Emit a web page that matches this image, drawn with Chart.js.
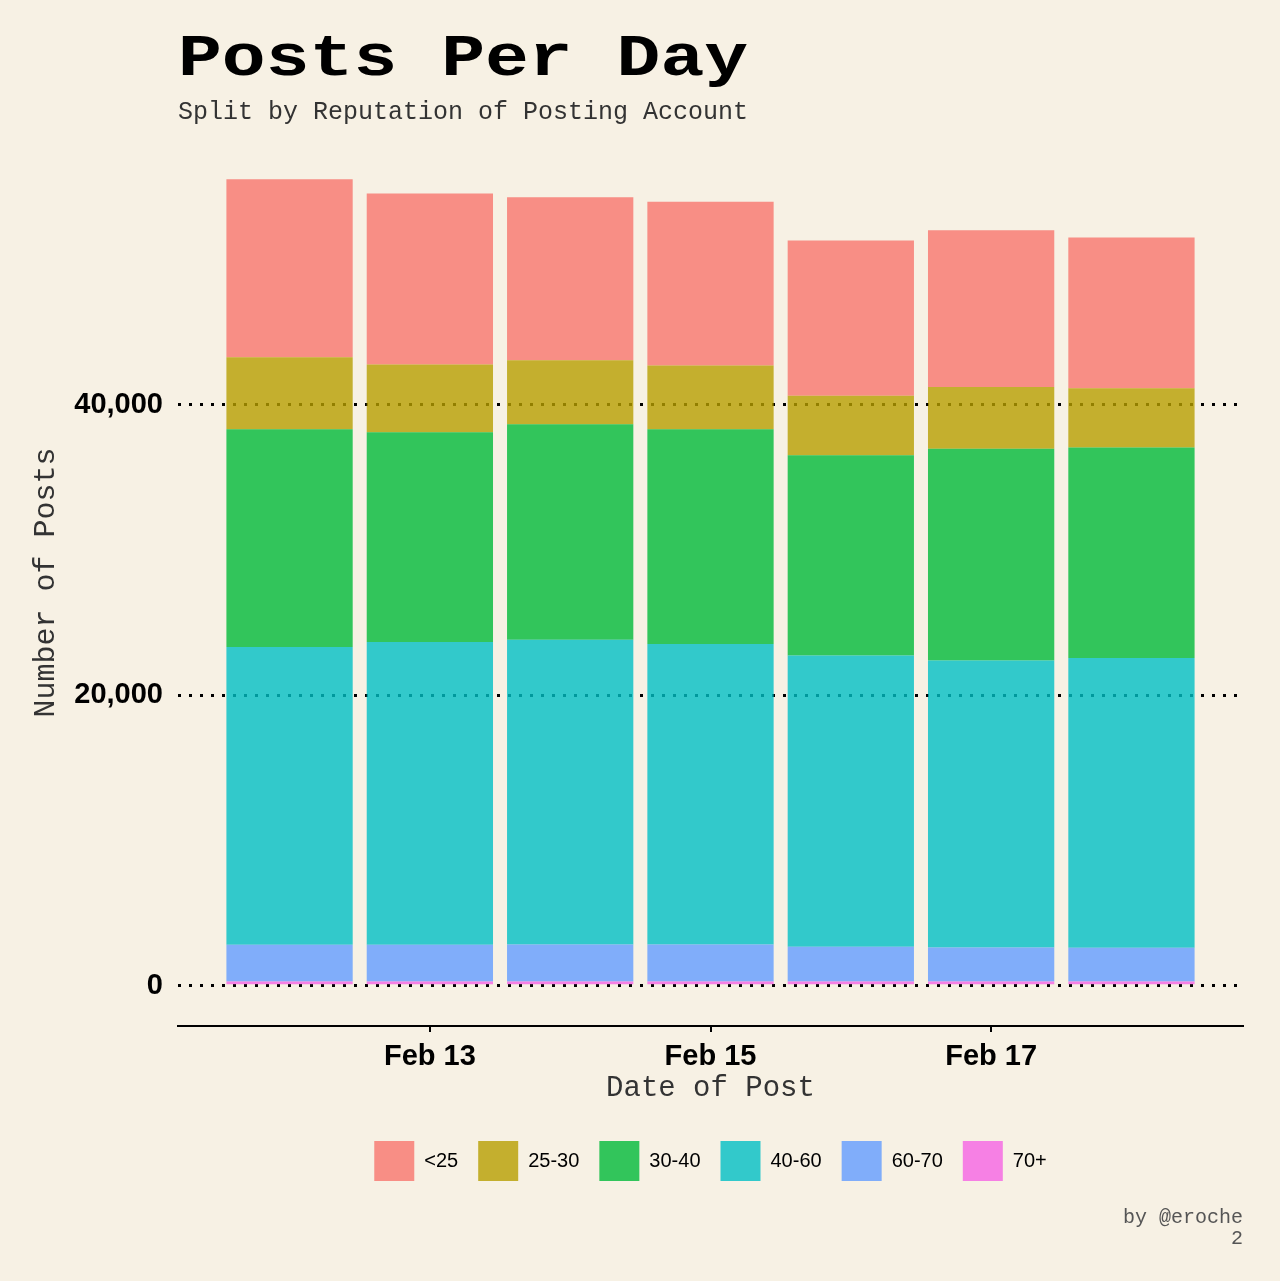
<!DOCTYPE html>
<html>
<head>
<meta charset="utf-8">
<script src="https://cdn.jsdelivr.net/npm/chart.js@4/dist/chart.umd.min.js"></script>
<style>
  html, body { margin:0; padding:0; background:#F7F1E4; }
  #wrap { position:relative; width:1280px; height:1281px; background:#F7F1E4; }
  #c { position:absolute; left:0; top:0; }
  .t { position:absolute; font-family:'Liberation Mono', monospace; white-space:nowrap; line-height:1; }
  #title { left:178px; top:29px; font-size:60px; font-weight:bold; color:#000; transform:scaleX(1.218); transform-origin:0 0; }
  #subtitle { left:178px; top:100px; font-size:25px; color:#333; }
  #foot { right:37px; top:1207px; font-size:20px; color:#555; text-align:right; line-height:21px; }
</style>
</head>
<body>
<div id="wrap">
  <canvas id="c" width="1280" height="1281"></canvas>
  <div class="t" id="title">Posts Per Day</div>
  <div class="t" id="subtitle">Split by Reputation of Posting Account</div>
  <div class="t" id="foot">by @eroche<br>2</div>
</div>
<script>
// Categories (days)
const categories = ['Feb 12', 'Feb 13', 'Feb 14', 'Feb 15', 'Feb 16', 'Feb 17', 'Feb 18'];
// Series (reputation groups)
const seriesNames = ['<25', '25-30', '30-40', '40-60', '60-70', '70+'];
const rep_lt25  = [12250, 11770, 11220, 11280, 10690, 10800, 10370];
const rep_25_30 = [4955, 4660, 4400, 4385, 4100, 4245, 4080];
const rep_30_40 = [15000, 14450, 14840, 14795, 13790, 14590, 14500];
const rep_40_60 = [20505, 20850, 20990, 20690, 20045, 19750, 19955];
const rep_60_70 = [2525, 2525, 2545, 2545, 2390, 2340, 2320];
const rep_70p   = [296, 296, 296, 296, 296, 296, 296];
// Tick labels / tick values
const xTickIndices = [1, 3, 5];
const yTickValues = [0, 20000, 40000];

const seriesValues = [rep_lt25, rep_25_30, rep_30_40, rep_40_60, rep_60_70, rep_70p];
const seriesColors = [
  'rgba(248,118,109,0.8)',
  'rgba(183,159,0,0.8)',
  'rgba(0,186,56,0.8)',
  'rgba(0,191,196,0.8)',
  'rgba(97,156,255,0.8)',
  'rgba(245,100,227,0.8)'
];

// Stack order: first dataset at bottom, so draw 70+ at the bottom
const order = [5, 4, 3, 2, 1, 0];
const datasets = order.map(k => ({
  label: seriesNames[k],
  data: seriesValues[k].map((v, i) => ({ x: i, y: v })),
  backgroundColor: seriesColors[k],
  borderWidth: 0,
  barPercentage: 0.9,
  categoryPercentage: 1.0,
  legendIndex: k
}));

const totals = categories.map((_, i) => seriesValues.reduce((s, arr) => s + arr[i], 0));
const maxTotal = Math.max(...totals);
const yMin = -0.05 * maxTotal;
const yMax = maxTotal * 1.05;

// Center legend under the plotting area
const legendShift = {
  id: 'legendShift',
  afterLayout(chart) {
    const lg = chart.legend;
    if (!lg) return;
    const w = lg.right - lg.left;
    const cx = (chart.chartArea.left + chart.chartArea.right) / 2;
    lg.left = cx - w / 2;
    lg.right = cx + w / 2;
  }
};

new Chart(document.getElementById('c'), {
  type: 'bar',
  data: { datasets },
  plugins: [legendShift],
  options: {
    responsive: false,
    animation: false,
    layout: { padding: { top: 139, left: 0, right: 37, bottom: 90 } },
    plugins: {
      legend: {
        position: 'bottom',
        labels: {
          boxWidth: 40,
          boxHeight: 40,
          padding: 20,
          color: '#000',
          font: { family: "'Liberation Sans', Arial, sans-serif", size: 20 },
          sort: (a, b) => datasets[a.datasetIndex].legendIndex - datasets[b.datasetIndex].legendIndex
        }
      },
      tooltip: { enabled: false }
    },
    scales: {
      x: {
        type: 'linear',
        stacked: true,
        offset: false,
        min: -0.795,
        max: 6.795,
        afterBuildTicks: (scale) => { scale.ticks = xTickIndices.map(v => ({ value: v })); },
        afterFit: (scale) => { scale.height = 95; },
        ticks: {
          autoSkip: false,
          maxRotation: 0,
          padding: 8,
          color: '#000',
          font: { family: "'Liberation Sans', Arial, sans-serif", size: 29, weight: 'bold' },
          callback: (v) => categories[v]
        },
        grid: { display: true, offset: false, drawOnChartArea: false, drawTicks: true, tickLength: 6, color: '#000', lineWidth: 2 },
        border: { display: true, color: '#000', width: 2 },
        title: {
          display: true,
          text: 'Date of Post',
          color: '#333',
          font: { family: "'Liberation Mono', monospace", size: 29 },
          padding: { top: 0, bottom: 15 }
        }
      },
      y: {
        stacked: true,
        min: yMin,
        max: yMax,
        afterBuildTicks: (scale) => { scale.ticks = yTickValues.map(v => ({ value: v })); },
        afterFit: (scale) => { scale.width = 178; },
        ticks: {
          padding: 15,
          color: '#000',
          font: { family: "'Liberation Sans', Arial, sans-serif", size: 29, weight: 'bold' },
          callback: (v) => v.toLocaleString('en-US')
        },
        grid: { color: '#000', lineWidth: 3, drawTicks: false },
        border: { display: false, dash: [3, 8] },
        title: {
          display: true,
          text: 'Number of Posts',
          color: '#333',
          font: { family: "'Liberation Mono', monospace", size: 30 },
          padding: { top: 28, bottom: 0 }
        }
      }
    }
  }
});
</script>
</body>
</html>
